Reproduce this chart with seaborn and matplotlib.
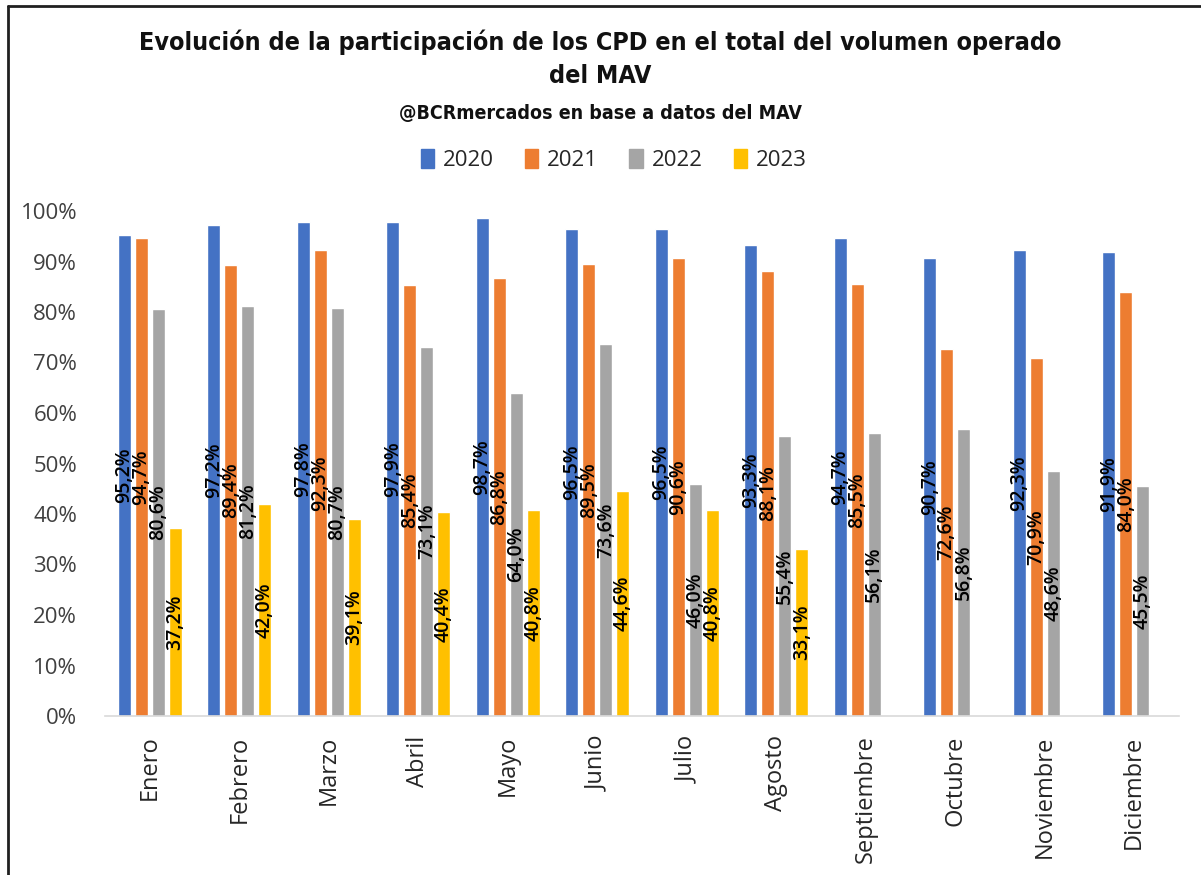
import numpy as np
import pandas as pd
import matplotlib
matplotlib.use("Agg")
import matplotlib.pyplot as plt
from matplotlib.lines import Line2D
import seaborn as sns

months = ["Enero", "Febrero", "Marzo", "Abril", "Mayo", "Junio", "Julio",
          "Agosto", "Septiembre", "Octubre", "Noviembre", "Diciembre"]
years = ["2020", "2021", "2022", "2023"]
v2020 = [95.2, 97.2, 97.8, 97.9, 98.7, 96.5, 96.5, 93.3, 94.7, 90.7, 92.3, 91.9]
v2021 = [94.7, 89.4, 92.3, 85.4, 86.8, 89.5, 90.6, 88.1, 85.5, 72.6, 70.9, 84.0]
v2022 = [80.6, 81.2, 80.7, 73.1, 64.0, 73.6, 46.0, 55.4, 56.1, 56.8, 48.6, 45.5]
v2023 = [37.2, 42.0, 39.1, 40.4, 40.8, 44.6, 40.8, 33.1]
colors = ["#4472C4", "#ED7D31", "#A5A5A5", "#FFC000"]

rows = []
for year, vals in zip(years, [v2020, v2021, v2022, v2023]):
    for m, v in zip(months, vals):
        rows.append({"mes": m, "anio": year, "valor": v})
df = pd.DataFrame(rows)

sns.set_theme(style="white")
plt.rcParams["font.family"] = ["Open Sans", "DejaVu Sans"]

fig = plt.figure(figsize=(12.01, 8.75), dpi=100)
ax = fig.add_axes([105 / 1201, (875 - 716) / 875, 1074 / 1201, 505 / 875])

sns.barplot(data=df, x="mes", y="valor", hue="anio", order=months,
            hue_order=years, palette=colors, width=0.76, gap=0.22,
            saturation=1, ax=ax, legend=False)

# data labels centred in each bar, rotated
for cont, year in zip(ax.containers, years):
    for bar in cont:
        h = bar.get_height()
        if np.isnan(h) or h == 0:
            continue
        ax.text(bar.get_x() + bar.get_width() / 2, h / 2,
                f"{h:.1f}%".replace(".", ","), rotation=90,
                ha="center", va="center", fontsize=14, fontweight="semibold",
                color="black", clip_on=False)

ax.set_xlim(-0.5, 11.5)
ax.set_ylim(0, 100)
ax.set_yticks(range(0, 101, 10))
ax.set_yticklabels([f"{t}%" for t in range(0, 101, 10)], fontsize=16, color="#404040")
ax.set_xticks(range(12))
ax.set_xticklabels(months, rotation=90, fontsize=17, color="#262626")
ax.tick_params(axis="y", pad=20, length=0)
ax.tick_params(axis="x", pad=14, length=0)
ax.set_xlabel("")
ax.set_ylabel("")
for s in ["top", "right", "left"]:
    ax.spines[s].set_visible(False)
ax.spines["bottom"].set_color("#D9D9D9")
ax.spines["bottom"].set_linewidth(1.2)

# titles
title_font = dict(family=["DejaVu Sans"], fontweight="bold", fontstretch="condensed",
                  color="#111111")
fig.text(0.5, 1 - 42 / 875, "Evolución de la participación de los CPD en el total del volumen operado",
         ha="center", va="center", fontsize=18, **title_font)
fig.text(0.5, 1 - 76 / 875, "del MAV", ha="center", va="center", fontsize=18, **title_font)
fig.text(0.5, 1 - 113 / 875, "@BCRmercados en base a datos del MAV", ha="center",
         va="center", fontsize=14, **title_font)

# legend
handles = [plt.Rectangle((0, 0), 1, 1, color=c) for c in colors]
fig.legend(handles, years, loc="center", bbox_to_anchor=(0.511, 1 - 160 / 875),
           ncol=4, frameon=False, fontsize=16, handlelength=0.6,
           handleheight=0.9, handletextpad=0.4, columnspacing=1.4)

# frame on top and left
fig.add_artist(Line2D([8 / 1201, 1], [1 - 6 / 875, 1 - 6 / 875],
                      transform=fig.transFigure, color="#202020", lw=2))
fig.add_artist(Line2D([8 / 1201, 8 / 1201], [0, 1 - 6 / 875],
                      transform=fig.transFigure, color="#202020", lw=2))

fig.savefig("out.png", dpi=100)
